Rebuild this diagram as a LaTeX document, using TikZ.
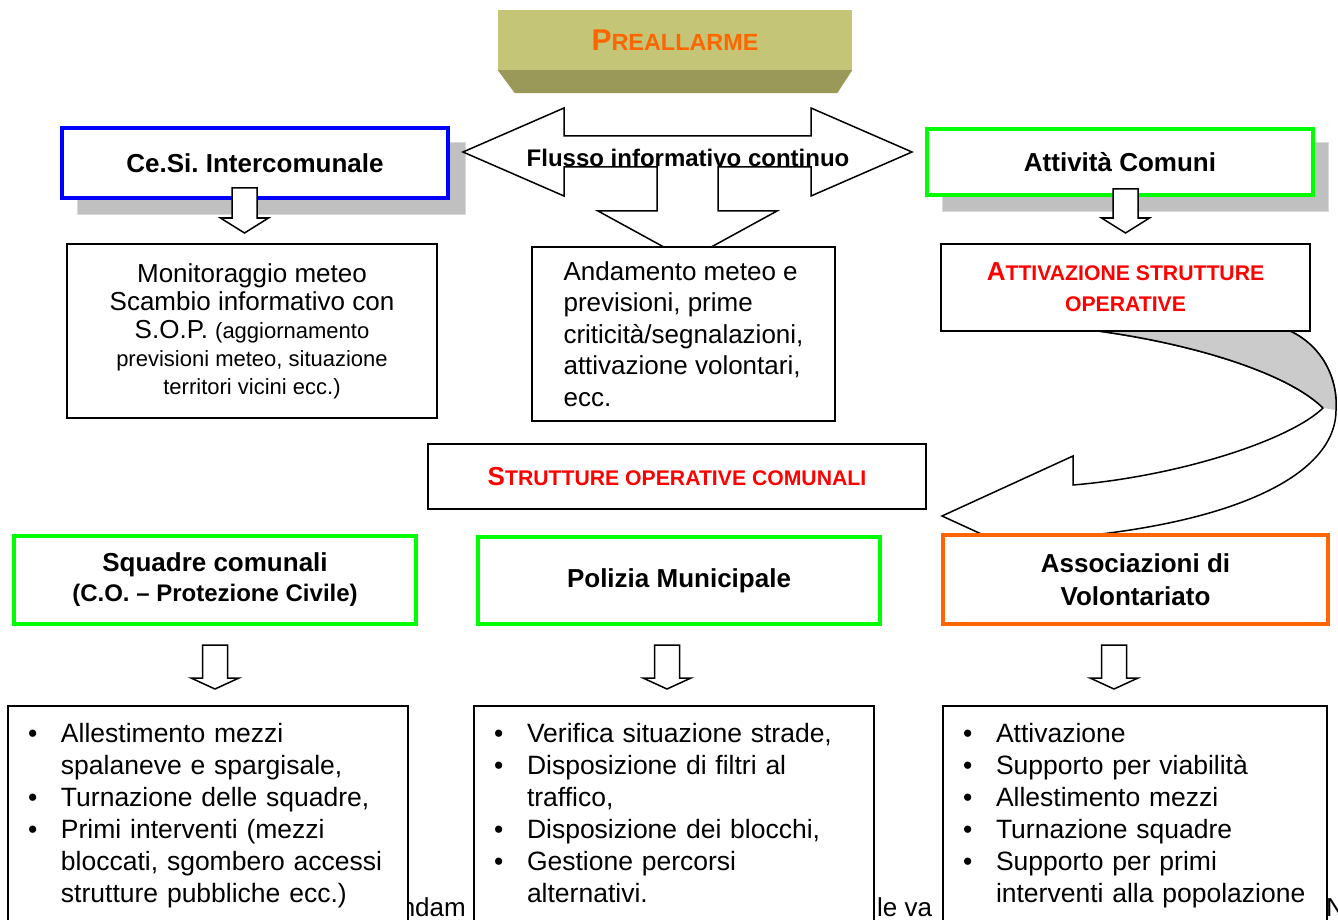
\documentclass[tikz,border=0pt]{standalone}
\usepackage{fontspec}
\setmainfont{Liberation Sans}
\usepackage{tikz}
\usetikzlibrary{arrows.meta}
\frenchspacing
\newcommand{\fs}[2]{\fontsize{#1}{#2}\selectfont}
\newcommand{\bulletlist}[1]{\begin{list}{\textbullet}{\setlength{\leftmargin}{53pt}\setlength{\labelwidth}{20pt}\setlength{\labelsep}{23.5pt}\setlength{\itemsep}{0pt}\setlength{\parsep}{0pt}\setlength{\topsep}{0pt}\setlength{\partopsep}{0pt}}#1\end{list}}
\definecolor{preface}{HTML}{C4C577}
\definecolor{prebevel}{HTML}{9A995A}
\definecolor{preorange}{HTML}{FF6600}
\definecolor{shadowgray}{HTML}{C0C0C0}
\definecolor{ribbongray}{HTML}{CBCBCB}
\definecolor{boxgreen}{HTML}{00FF00}
\definecolor{boxblue}{HTML}{0000FF}
\definecolor{boxorange}{HTML}{FF6600}

\begin{document}
\begin{tikzpicture}[x=1pt,y=-1pt,
box/.style={draw,line width=2pt,fill=white,inner sep=0pt,outer sep=0pt,align=center,font=\fs{26}{28}},
headbox/.style={box,line width=4pt,font=\bfseries\fs{26}{30}},
redtitle/.style={text=red,font=\bfseries\fs{21.2}{31}},
shadowbox/.style={fill=shadowgray,draw=shadowgray!60,line width=1pt},
listbox/.style={draw,line width=2pt,fill=white,anchor=north west,inner xsep=0pt,inner ysep=4pt,text width=#1,align=left,text depth=240pt,font=\fs{26.5}{32}},
fragment/.style={inner sep=0pt,font=\fs{26}{28}},
blockarrow/.style={draw,line width=1.5pt,fill=white,line join=miter},
pics/dnarrow/.style 2 args={code={\draw[blockarrow](-12.5,0)--(12.5,0)--(12.5,#1)--(24,#1)--(0,#1+#2)--(-24,#1)--(-12.5,#1)--cycle;}}]
\useasboundingbox (0,0) rectangle (1338,920);
\clip (0,0) rectangle (1338,920);

\node[fragment,anchor=base east] (frag1) at (466,916) {ndam};
\node[fragment,anchor=base west] (frag2) at (877,916) {le va};
\node[fragment,anchor=base west] (frag3) at (1326,916) {N};

\node[fill=preface,minimum width=354,minimum height=60,inner sep=0pt,text=preorange,font=\bfseries] (pre) at (675,40) {{\fs{30}{30}P}{\fs{23.4}{24}REALLARME}};
\fill[prebevel] (pre.south west)--(pre.south east)--++(-15,23)--([shift={(17,23)}]pre.south west)--cycle;

\fill[shadowbox] (77,143) rectangle (465,215);
\node[headbox,draw=boxblue,minimum width=386,minimum height=70] (cesi) at (255,163) {Ce.Si. Intercomunale};
\fill[shadowbox] (942,143) rectangle (1328,212);
\node[headbox,draw=boxgreen,minimum width=386,minimum height=66] (comuni) at (1120,162) {Attività Comuni};

\draw[blockarrow] (463,152)--(564,108)--(564,136)--(811,136)--(811,108)--(912,152)--(811,196)--(811,167)--(718,167)--(718,211)--(777,211)--(687.5,260)--(598,211)--(657,211)--(657,167)--(564,167)--(564,196)--cycle;
\node[font=\bfseries\fs{24}{24},inner sep=0pt] (flusso) at (688,158) {Flusso informativo continuo};

\pic at ([shift={(-10.5,-10)}]cesi.south) {dnarrow={30}{15}};
\pic at ([shift={(5.5,-6)}]comuni.south) {dnarrow={29}{15}};

\node[box,minimum width=370,minimum height=174] (meteo) at (252,331) {Monitoraggio meteo\\Scambio informativo con\\S.O.P. {\fs{22}{28}(aggiornamento}\\{\fs{22}{28}previsioni meteo, situazione}\\{\fs{22}{28}territori vicini ecc.)}};
\node[box,minimum width=303,minimum height=174,align=left,font=\fs{26}{31.5}] (andam) at (683.5,334) {Andamento meteo e\\previsioni, prime\\criticità/segnalazioni,\\attivazione volontari,\\ecc.};

\draw[blockarrow] (1098,331) .. controls (1200,345) and (1290,375) .. (1323,408) .. controls (1290,440) and (1180,476) .. (1073,485)--(1073,456)--(942,516)--(1073,576)--(1073,537) .. controls (1235,522) and (1336,475) .. (1336,410) .. controls (1338,378) and (1322,346) .. (1290,331)--cycle;
\fill[ribbongray] (1098,331) .. controls (1200,345) and (1290,375) .. (1323,408)--(1336,410) .. controls (1338,378) and (1322,346) .. (1290,331)--cycle;
\draw[line width=1.5pt] (1098,331) .. controls (1200,345) and (1290,375) .. (1323,408) (1336,410) .. controls (1338,378) and (1322,346) .. (1290,331);

\node[box,redtitle,minimum width=369,minimum height=87] (attiv) at (1125.5,287.5) {{\fs{26}{26}A}TTIVAZIONE STRUTTURE\\OPERATIVE};
\node[box,redtitle,minimum width=498,minimum height=65] (strut) at (677,476.5) {{\fs{26}{26}S}TRUTTURE OPERATIVE COMUNALI};

\node[headbox,draw=boxgreen,minimum width=402,minimum height=88] (squadre) at (215,580) {Squadre comunali\\{\fs{24}{24}(C.O. – Protezione Civile)}};
\node[headbox,draw=boxgreen,minimum width=402,minimum height=87] (polizia) at (679,580.5) {Polizia Municipale};
\node[headbox,draw=boxorange,minimum width=385,minimum height=89,font=\bfseries\fs{26}{33}] (assoc) at (1135.5,579.5) {Associazioni di\\Volontariato};

\pic at ([shift={(0,21)}]squadre.south) {dnarrow={33}{11}};
\pic at ([shift={(-12,21)}]polizia.south) {dnarrow={33}{11}};
\pic at ([shift={(-21.5,21)}]assoc.south) {dnarrow={33}{11}};

\node[listbox=400] (listsq) at (7,705) {\bulletlist{\item Allestimento mezzi\\spalaneve e spargisale,
\item Turnazione delle squadre,
\item Primi interventi (mezzi\\bloccati, sgombero accessi\\strutture pubbliche ecc.)}};
\node[listbox=400] (listpm) at (473,705) {\bulletlist{\item Verifica situazione strade,
\item Disposizione di filtri al\\traffico,
\item Disposizione dei blocchi,
\item Gestione percorsi\\alternativi.}};
\node[listbox=384] (listav) at (942,705) {\bulletlist{\item Attivazione
\item Supporto per viabilità
\item Allestimento mezzi
\item Turnazione squadre
\item Supporto per primi\\interventi alla popolazione}};
\end{tikzpicture}
\end{document}
